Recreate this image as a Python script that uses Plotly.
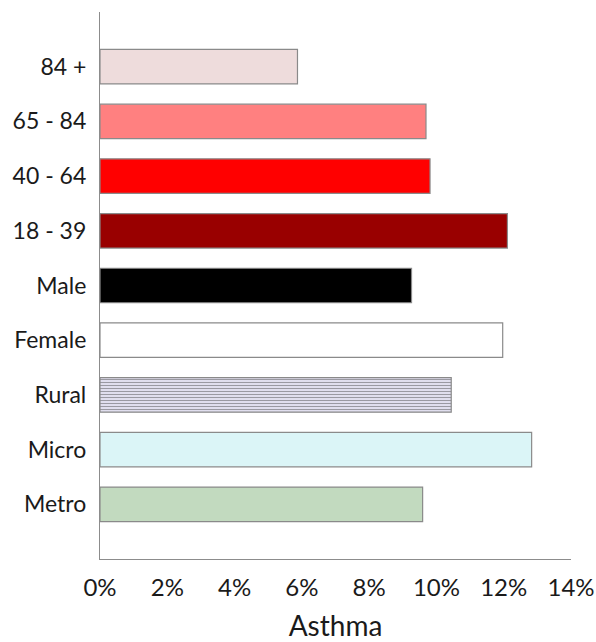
import plotly.graph_objects as go

categories = ["Metro", "Micro", "Rural", "Female", "Male", "18 - 39", "40 - 64", "65 - 84", "84 +"]
values = [0.0959, 0.1283, 0.1044, 0.1197, 0.0926, 0.1211, 0.0981, 0.0969, 0.0587]
colors = ["#C2DABF", "#DBF5F7", "#E0DEEE", "#FFFFFF", "#000000", "#990000", "#FF0000", "#FF8080", "#EEDCDC"]
x_ticks = [0, 0.02, 0.04, 0.06, 0.08, 0.10, 0.12, 0.14]
x_tick_labels = ["0%", "2%", "4%", "6%", "8%", "10%", "12%", "14%"]

shapes = ["-" if c == "Rural" else "" for c in categories]

fig = go.Figure(go.Bar(
    y=categories,
    x=values,
    orientation="h",
    marker=dict(
        color=colors,
        line=dict(color="#8A8A8A", width=1.2),
        pattern=dict(shape=shapes, fgcolor="#CDCBE0", size=3, solidity=0.3),
    ),
    hoverinfo="x+y",
))

fig.update_layout(
    width=596, height=642,
    margin=dict(l=100, r=25, t=12, b=83),
    paper_bgcolor="white", plot_bgcolor="white",
    font=dict(family="Lato, Carlito, Calibri, sans-serif", color="#1a1a1a", size=24),
    bargap=0.37,
    showlegend=False,
    xaxis=dict(
        range=[0, 0.14],
        tickvals=x_ticks,
        ticktext=x_tick_labels,
        showgrid=False, zeroline=False,
        showline=True, linecolor="#8C8C8C", linewidth=1.2,
        ticks="", ticklabelstandoff=7,
        tickfont=dict(size=24),
        automargin=False,
        title=dict(text="Asthma", font=dict(size=28), standoff=18),
    ),
    yaxis=dict(
        range=[-1, 9],
        showgrid=False, zeroline=False,
        showline=True, linecolor="#8C8C8C", linewidth=1.2,
        ticks="", ticklabelstandoff=8,
        tickfont=dict(size=23),
        automargin=False,
    ),
)

fig.write_html("out.html")
